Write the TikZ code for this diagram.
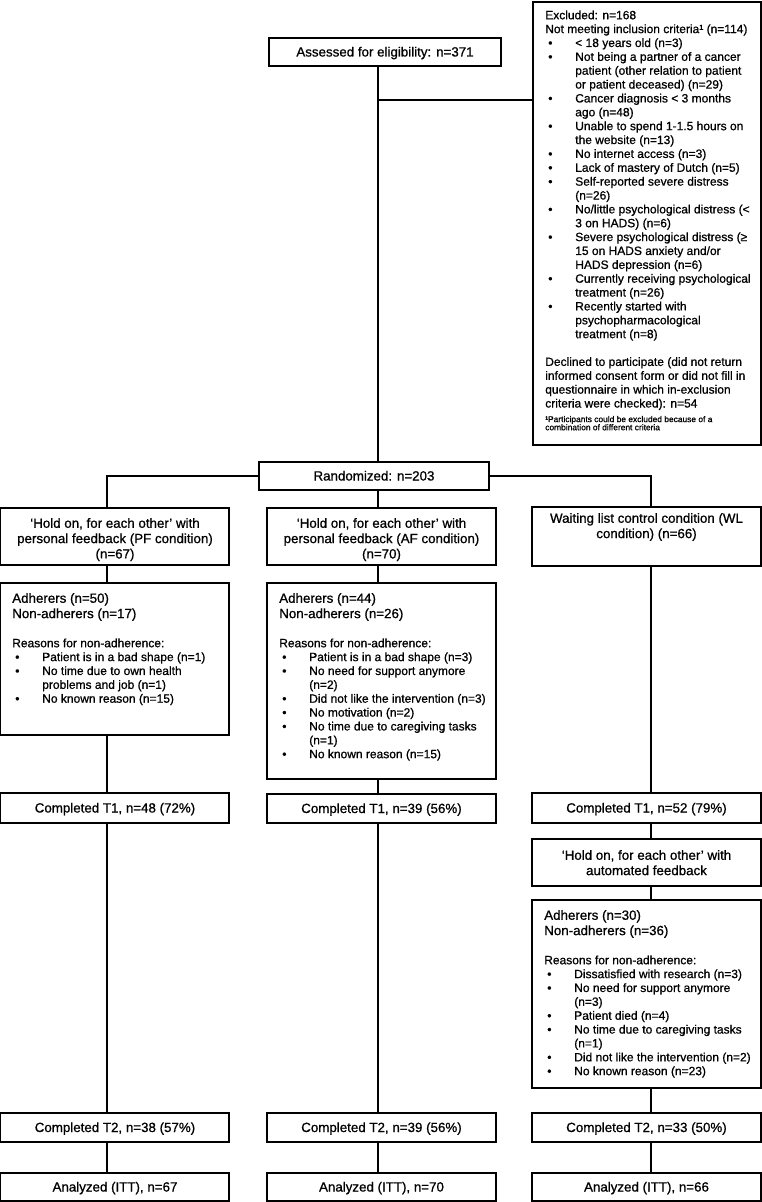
\documentclass[tikz,border=0pt]{standalone}
\usepackage{fontspec}
\setmainfont{Liberation Sans}[FakeBold=0.8]
\usetikzlibrary{fit}
\newcommand{\fA}{\fontsize{10}{11.5}\selectfont}
\newcommand{\fB}{\fontsize{9}{10.4}\selectfont}
\newcommand{\fC}{\fontsize{6.3}{6.1}\selectfont}
\newcommand{\stA}{\rule{0pt}{9pt}}
\newcommand{\stB}{\rule{0pt}{8pt}}
\newcommand{\bl}{\makebox[22.5pt][l]{\hspace{2.25pt}•}}
\newcommand{\bc}{\hspace*{22.5pt}}
\begin{document}
\begin{tikzpicture}[x=0.75pt,y=-0.75pt,
  box/.style={draw, line width=0.9pt, inner sep=0pt},
  tbox/.style={box, line width=1.3pt},
  conn/.style={line width=1.5pt},
  one/.style={inner sep=0pt, font=\fA, anchor=base},
  ctxt/.style={inner sep=0pt, font=\fA, align=center, anchor=north},
  ltxt/.style={inner sep=0pt, align=left, anchor=north west}]
\fill[white] (0,0) rectangle (762,1202);
\useasboundingbox (0,0) rectangle (762,1202);

% ---------- top ----------
\node[box, fit={(269,38) (501,66)}] (assess) {};
\node[one] (assesst) at (385,56.5) {Assessed for eligibility: n=371};

\node[box, fit={(533,2) (761,445)}] (excl) {};
\node[ltxt, font=\fB] (exclt) at (545,8.3) {\stB Excluded: n=168\\
Not meeting inclusion criteria¹ (n=114)\\
\bl < 18 years old (n=3)\\
\bl Not being a partner of a cancer\\
\bc patient (other relation to patient\\
\bc or patient deceased) (n=29)\\
\bl Cancer diagnosis < 3 months\\
\bc ago (n=48)\\
\bl Unable to spend 1-1.5 hours on\\
\bc the website (n=13)\\
\bl No internet access (n=3)\\
\bl Lack of mastery of Dutch (n=5)\\
\bl Self-reported severe distress\\
\bc (n=26)\\
\bl No/little psychological distress (<\\
\bc 3 on HADS) (n=6)\\
\bl Severe psychological distress (≥\\
\bc 15 on HADS anxiety and/or\\
\bc HADS depression (n=6)\\
\bl Currently receiving psychological\\
\bc treatment (n=26)\\
\bl Recently started with\\
\bc psychopharmacological\\
\bc treatment (n=8)\\
\mbox{}\\
Declined to participate (did not return\\
informed consent form or did not fill in\\
questionnaire in which in-exclusion\\
criteria were checked): n=54};
\node[ltxt, font=\fC] (exclf) at (545,414.5) {\rule{0pt}{5.5pt}¹Participants could be excluded because of a\\combination of different criteria};

\node[box, fit={(259,462) (489,490)}] (rand) {};
\node[one] (randt) at (374,480.5) {Randomized: n=203};

% ---------- row 1 ----------
\node[box, fit={(0.6,508) (229,565)}] (hpf) {};
\node[ctxt] (hpft) at (115,515.5) {\stA ‘Hold on, for each other’ with\\personal feedback (PF condition)\\(n=67)};
\node[box, fit={(267,508) (496,565)}] (haf) {};
\node[ctxt] (haft) at (381.5,515.5) {\stA ‘Hold on, for each other’ with\\personal feedback (AF condition)\\(n=70)};
\node[box, fit={(532,507) (761,566)}] (hwl) {};
\node[ctxt] (hwlt) at (646.5,510.5) {\stA Waiting list control condition (WL\\condition) (n=66)};

% ---------- adherence boxes ----------
\node[box, fit={(0.6,583) (229,735)}] (ada) {};
\node[ltxt, font=\fA] (adat) at (12,590.5) {\stA Adherers (n=50)\\Non-adherers (n=17)};
\node[ltxt, font=\fB] (adar) at (12,636.3) {\stB Reasons for non-adherence:\\
\bl Patient is in a bad shape (n=1)\\
\bl No time due to own health\\
\bc problems and job (n=1)\\
\bl No known reason (n=15)};

\node[box, fit={(267,583) (496,779)}] (adb) {};
\node[ltxt, font=\fA] (adbt) at (279,590.5) {\stA Adherers (n=44)\\Non-adherers (n=26)};
\node[ltxt, font=\fB] (adbr) at (279,636.3) {\stB Reasons for non-adherence:\\
\bl Patient is in a bad shape (n=3)\\
\bl No need for support anymore\\
\bc (n=2)\\
\bl Did not like the intervention (n=3)\\
\bl No motivation (n=2)\\
\bl No time due to caregiving tasks\\
\bc (n=1)\\
\bl No known reason (n=15)};

% ---------- T1 ----------
\node[box, fit={(0.6,793) (229,823)}] (t1a) {};
\node[one] (t1at) at (115,812.5) {Completed T1, n=48 (72\%)};
\node[box, fit={(267,794) (496,823)}] (t1b) {};
\node[one] (t1bt) at (381.5,813) {Completed T1, n=39 (56\%)};
\node[tbox, fit={(532,793) (761,823)}] (t1c) {};
\node[one] (t1ct) at (646.5,812.5) {Completed T1, n=52 (79\%)};

\node[box, fit={(532,839) (761,886)}] (auto) {};
\node[ctxt] (autot) at (646.5,847.5) {\stA ‘Hold on, for each other’ with\\automated feedback};

\node[box, fit={(532,900) (761,1088)}] (adc) {};
\node[ltxt, font=\fA] (adct) at (544,907.5) {\stA Adherers (n=30)\\Non-adherers (n=36)};
\node[ltxt, font=\fB] (adcr) at (544,953.3) {\stB Reasons for non-adherence:\\
\bl Dissatisfied with research (n=3)\\
\bl No need for support anymore\\
\bc (n=3)\\
\bl Patient died (n=4)\\
\bl No time due to caregiving tasks\\
\bc (n=1)\\
\bl Did not like the intervention (n=2)\\
\bl No known reason (n=23)};

% ---------- T2 and analysis ----------
\node[box, fit={(0.6,1113) (229,1142)}] (t2a) {};
\node[one] (t2at) at (115,1132) {Completed T2, n=38 (57\%)};
\node[box, fit={(267,1113) (496,1142)}] (t2b) {};
\node[one] (t2bt) at (381.5,1132) {Completed T2, n=39 (56\%)};
\node[tbox, fit={(532,1113) (761,1142)}] (t2c) {};
\node[one] (t2ct) at (646.5,1132) {Completed T2, n=33 (50\%)};

\node[box, fit={(0.6,1173) (229,1201)}] (ana) {};
\node[one] (anat) at (115,1191.5) {Analyzed (ITT), n=67};
\node[box, fit={(267,1173) (496,1201)}] (anb) {};
\node[one] (anbt) at (381.5,1191.5) {Analyzed (ITT), n=70};
\node[tbox, fit={(532,1173) (761,1201)}] (anc) {};
\node[one] (anct) at (646.5,1191.5) {Analyzed (ITT), n=66};

% ---------- connectors ----------
\coordinate (x1) at (107,0);
\coordinate (x2) at (378,0);
\coordinate (x3) at (651,0);
\coordinate (jx) at (378,100);

\draw[conn] (assess.south -| x2) -- (rand.north -| x2);
\draw[conn] (jx) -- (excl.west |- jx);
\draw[conn] (rand.west) -| (hpf.north -| x1);
\draw[conn] (rand.east) -| (hwl.north -| x3);
\draw[conn] (rand.south -| x2) -- (haf.north -| x2);

\draw[conn] (hpf.south -| x1) -- (ada.north -| x1);
\draw[conn] (ada.south -| x1) -- (t1a.north -| x1);
\draw[conn] (t1a.south -| x1) -- (t2a.north -| x1);
\draw[conn] (t2a.south -| x1) -- (ana.north -| x1);

\draw[conn] (haf.south -| x2) -- (adb.north -| x2);
\draw[conn] (adb.south -| x2) -- (t1b.north -| x2);
\draw[conn] (t1b.south -| x2) -- (t2b.north -| x2);
\draw[conn] (t2b.south -| x2) -- (anb.north -| x2);

\draw[conn] (hwl.south -| x3) -- (t1c.north -| x3);
\draw[conn] (t1c.south -| x3) -- (auto.north -| x3);
\draw[conn] (auto.south -| x3) -- (adc.north -| x3);
\draw[conn] (adc.south -| x3) -- (t2c.north -| x3);
\draw[conn] (t2c.south -| x3) -- (anc.north -| x3);
\end{tikzpicture}
\end{document}
